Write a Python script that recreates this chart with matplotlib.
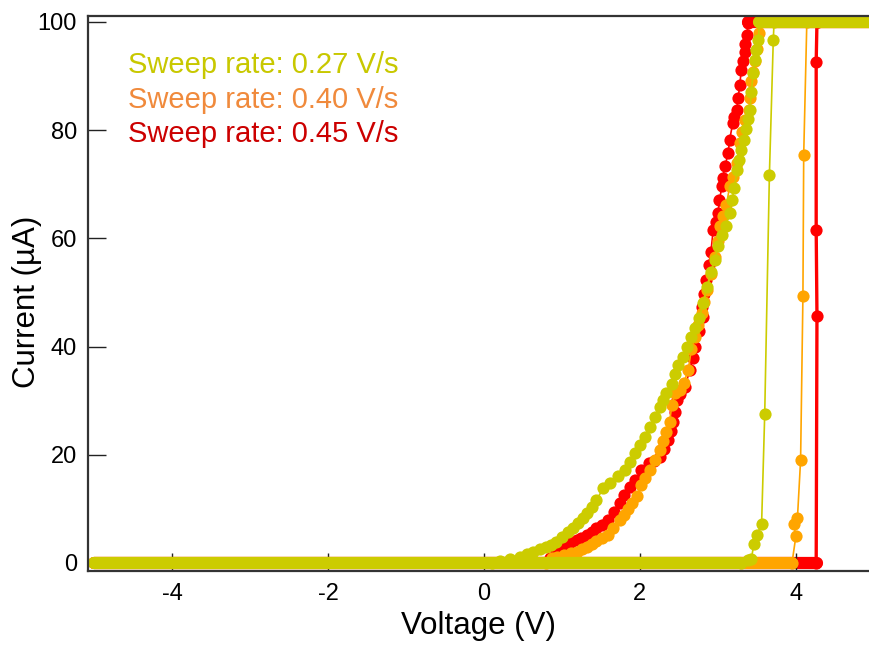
import matplotlib
matplotlib.use('Agg')
import matplotlib.pyplot as plt

plt.rcParams['font.family'] = ['Liberation Sans', 'DejaVu Sans']
plt.rcParams['axes.unicode_minus'] = False

COMPLIANCE = 100.0  # current limit, uA

# sweep rates and colours
rates = ['0.27', '0.40', '0.45']
marker_colors = ['#cccc00', '#ffa500', '#ff0000']
text_colors = ['#c8c800', '#f08a3c', '#cc0000']

# low-current plateau (V start, V end) at 0 uA
off_plateau = [(-5.0, 3.30), (-5.0, 3.95), (-5.0, 4.27)]
# compliance plateau (V start, V end) at 100 uA
on_plateau = [(3.53, 5.0), (3.55, 5.0), (3.38, 5.0)]

# forward sweep: switching from off to on
fwd_v_027 = [3.30, 3.38, 3.43, 3.46, 3.50, 3.56, 3.60, 3.66, 3.71, 3.72]
fwd_i_027 = [0.0, 0.5, 0.8, 3.5, 5.2, 7.2, 27.5, 71.7, 96.7, 100.0]
fwd_v_040 = [3.95, 4.00, 3.97, 4.02, 4.06, 4.09, 4.10, 4.14]
fwd_i_040 = [0.0, 5.0, 7.2, 8.4, 19.0, 49.4, 75.5, 100.0]
fwd_v_045 = [4.26, 4.27, 4.26, 4.26, 4.27, 4.28]
fwd_i_045 = [0.0, 45.7, 61.6, 92.6, 100.0, 100.0]

# reverse sweep: gradual decrease of current
rev_v_027 = [3.53, 3.52, 3.49, 3.47, 3.45, 3.43, 3.41, 3.38, 3.36, 3.33, 3.30,
             3.27, 3.25, 3.21, 3.18, 3.15, 3.10, 3.05, 3.00, 2.96, 2.91, 2.86,
             2.81, 2.76, 2.71, 2.65, 2.60, 2.55, 2.49, 2.45, 2.41, 2.34, 2.30,
             2.26, 2.19, 2.13, 2.06, 2.00, 1.94, 1.87, 1.81, 1.72, 1.62, 1.53,
             1.44, 1.38, 1.32, 1.27, 1.21, 1.14, 1.08, 1.00, 0.93, 0.86, 0.80,
             0.72, 0.63, 0.55, 0.46, 0.33, 0.20, 0.10]
rev_i_027 = [100.0, 96.7, 94.8, 93.0, 90.5, 87.0, 83.7, 82.0, 80.3, 78.2, 76.3,
             74.5, 72.6, 69.4, 67.0, 64.6, 62.3, 60.6, 58.6, 56.0, 53.8, 51.1,
             48.0, 45.2, 43.4, 41.8, 40.0, 38.1, 36.6, 35.0, 33.1, 31.4, 30.1,
             28.9, 27.0, 25.2, 23.3, 21.8, 20.3, 18.7, 17.2, 16.0, 14.7, 13.8,
             11.6, 10.4, 9.2, 8.3, 7.3, 6.5, 5.8, 4.8, 3.9, 3.4, 3.0,
             2.6, 2.1, 1.6, 1.2, 0.7, 0.3, 0.0]
rev_v_040 = [3.55, 3.53, 3.50, 3.47, 3.45, 3.43, 3.41, 3.40, 3.35, 3.31, 3.28,
             3.25, 3.19, 3.15, 3.11, 3.07, 3.03, 3.00, 2.96, 2.91, 2.86, 2.82,
             2.79, 2.75, 2.71, 2.66, 2.62, 2.56, 2.51, 2.45, 2.41, 2.38, 2.34,
             2.30, 2.26, 2.19, 2.13, 2.06, 2.02, 1.96, 1.90, 1.85, 1.80, 1.74,
             1.66, 1.59, 1.52, 1.44, 1.38, 1.32, 1.26, 1.19, 1.11, 1.02, 0.94,
             0.87, 0.80]
rev_i_040 = [100.0, 97.9, 95.0, 92.7, 90.8, 89.0, 86.0, 83.7, 81.9, 79.6, 77.6,
             73.9, 71.4, 69.6, 66.2, 64.2, 62.2, 59.5, 56.6, 53.5, 50.5, 48.3,
             46.2, 44.0, 41.8, 39.6, 35.7, 33.2, 32.0, 31.4, 29.2, 26.1, 24.3,
             22.6, 20.9, 19.0, 17.2, 15.7, 14.4, 12.3, 11.0, 10.0, 8.9, 7.9,
             6.5, 5.2, 4.6, 4.0, 3.5, 3.0, 2.5, 2.1, 1.8, 1.5, 1.2,
             1.0, 0.0]
rev_v_045 = [3.38, 3.39, 3.37, 3.35, 3.35, 3.32, 3.30, 3.28, 3.26, 3.24, 3.21,
             3.19, 3.15, 3.13, 3.09, 3.06, 3.05, 3.02, 3.00, 2.97, 2.94, 2.91,
             2.88, 2.85, 2.82, 2.79, 2.81, 2.76, 2.71, 2.68, 2.64, 2.58, 2.52,
             2.47, 2.45, 2.43, 2.40, 2.36, 2.31, 2.26, 2.18, 2.11, 2.02, 1.94,
             1.87, 1.80, 1.74, 1.67, 1.59, 1.52, 1.44, 1.38, 1.32, 1.25, 1.19,
             1.12, 1.06, 1.00, 0.93, 0.85]
rev_i_045 = [100.0, 99.8, 97.6, 96.0, 94.5, 92.8, 91.1, 88.4, 86.0, 83.7, 82.5,
             81.3, 78.2, 75.7, 73.3, 71.1, 69.6, 67.0, 64.6, 63.0, 61.6, 57.5,
             55.0, 52.3, 49.8, 47.4, 45.5, 42.8, 40.0, 37.8, 35.7, 32.6, 31.3,
             30.1, 28.0, 26.1, 24.4, 22.7, 21.1, 19.6, 18.9, 18.4, 17.2, 15.3,
             14.1, 12.5, 11.0, 9.4, 7.9, 7.1, 6.4, 5.8, 5.2, 4.7, 4.3,
             3.8, 3.3, 2.8, 2.4, 1.0]

fwd_v = [fwd_v_027, fwd_v_040, fwd_v_045]
fwd_i = [fwd_i_027, fwd_i_040, fwd_i_045]
rev_v = [rev_v_027, rev_v_040, rev_v_045]
rev_i = [rev_i_027, rev_i_040, rev_i_045]

fig = plt.figure(figsize=(8.7, 6.45), dpi=100)
ax = fig.add_axes([88 / 870, 1 - 571 / 645, 1 - 88 / 870, (571 - 16) / 645])

ms = 8.8
# draw fastest sweep first so the slow one ends up on top
for k in [2, 1, 0]:
    c = marker_colors[k]
    z = 3 - k
    for (v0, v1), level in [(off_plateau[k], 0.0), (on_plateau[k], COMPLIANCE)]:
        ax.plot([v0, v1], [level, level], color=c, lw=ms,
                solid_capstyle='round', zorder=z)
    lw = 2.4 if k == 2 else 1.2
    ax.plot(fwd_v[k], fwd_i[k], color=c, lw=lw, marker='o', ms=ms,
            mec='none', zorder=z)
    ax.plot(rev_v[k], rev_i[k], color=c, lw=1.2, marker='o', ms=ms,
            mec='none', zorder=z)

for k, r in enumerate(rates):
    ax.text(128 / 870, 1 - 65 / 645 - k * 34.5 / 645, f'Sweep rate: {r} V/s',
            transform=fig.transFigure, color=text_colors[k], fontsize=21,
            va='center', ha='left')

ax.set_xlim(-5.077, 4.95)
ax.set_ylim(-1.48, 101.1)
ax.set_xticks([-4, -2, 0, 2, 4])
ax.set_yticks([0, 20, 40, 60, 80, 100])
ax.tick_params(direction='in', length=13, width=1, labelsize=17, color='#222222')
ax.tick_params(axis='x', pad=9)
ax.tick_params(axis='y', pad=8)
ax.set_xlabel('Voltage (V)', fontsize=22.5, labelpad=4)
ax.set_ylabel('Current (µA)', fontsize=22.5)
ax.yaxis.set_label_coords(-46 / 782, 0.485)

ax.spines['right'].set_visible(False)
for s in ['left', 'bottom', 'top']:
    ax.spines[s].set_linewidth(1.6)
    ax.spines[s].set_color('#333333')
    ax.spines[s].set_zorder(5)

fig.savefig('out.png', dpi=100)
